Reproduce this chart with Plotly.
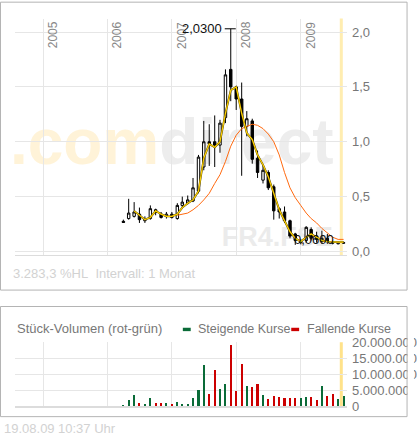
import pandas as pd
import plotly.graph_objects as go

# monthly candles, plotted at the end of each month (Mar 2006 .. Aug 2009)
months = pd.date_range("2006-04-01", periods=42, freq="MS")

opens = [0.275, 0.30, 0.32, 0.34, 0.28, 0.30, 0.38, 0.34, 0.32, 0.34,
         0.30, 0.42, 0.44, 0.46, 0.55, 0.77, 1.00, 1.00, 0.97, 1.22,
         1.66, 1.50, 1.39, 1.14, 1.19, 0.85, 0.65, 0.72, 0.59, 0.39,
         0.36, 0.28, 0.16, 0.08, 0.10, 0.20, 0.14, 0.09, 0.12, 0.09,
         0.07, 0.075]
highs = [0.29, 0.48, 0.45, 0.40, 0.32, 0.42, 0.39, 0.36, 0.36, 0.36,
         0.44, 0.50, 0.51, 0.67, 0.88, 1.19, 1.16, 1.24, 1.20, 1.66,
         2.03, 1.51, 1.54, 1.28, 1.21, 0.92, 0.79, 0.74, 0.61, 0.40,
         0.41, 0.29, 0.17, 0.11, 0.23, 0.22, 0.18, 0.19, 0.16, 0.10,
         0.09, 0.09]
lows = [0.26, 0.29, 0.31, 0.26, 0.26, 0.29, 0.33, 0.30, 0.30, 0.30,
        0.29, 0.40, 0.43, 0.45, 0.53, 0.74, 0.78, 0.77, 0.90, 1.17,
        1.37, 1.29, 0.69, 1.05, 0.80, 0.67, 0.62, 0.56, 0.29, 0.30,
        0.26, 0.12, 0.06, 0.065, 0.08, 0.10, 0.08, 0.07, 0.07, 0.065,
        0.065, 0.07]
closes = [0.265, 0.35, 0.36, 0.29, 0.29, 0.39, 0.355, 0.31, 0.34, 0.31,
          0.42, 0.45, 0.47, 0.58, 0.86, 1.00, 0.98, 0.97, 1.17, 1.61,
          1.50, 1.39, 1.14, 1.21, 0.84, 0.72, 0.74, 0.58, 0.37, 0.36,
          0.28, 0.14, 0.10, 0.10, 0.22, 0.12, 0.11, 0.12, 0.09, 0.075,
          0.08, 0.08]

# moving averages
ma_short = [None, None, 0.37, 0.33, 0.29, 0.31, 0.37, 0.34, 0.32, 0.32,
            0.34, 0.40, 0.44, 0.47, 0.55, 0.85, 0.98, 0.95, 1.00, 1.26,
            1.47, 1.50, 1.26, 1.08, 1.02, 0.88, 0.79, 0.68, 0.52, 0.38,
            0.28, 0.18, 0.12, 0.09, 0.13, 0.16, 0.13, 0.10, 0.09, 0.085,
            0.085, 0.085]
ma_long = [None] * 10 + [0.33, 0.34, 0.35, 0.38, 0.42, 0.47, 0.53, 0.62, 0.70, 0.82,
                         0.96, 1.06, 1.12, 1.14, 1.16, 1.15, 1.12, 1.07, 1.00, 0.88,
                         0.72, 0.58, 0.49, 0.42, 0.35, 0.30, 0.26, 0.21, 0.17, 0.13,
                         0.11, 0.11]

# volume in millions, "G" = steigend, "R" = fallend
volume_mio = [0.2, 1.7, 3.5, 0.8, 0.5, 2.3, 0.8, 0.8, 0.8, 0.5,
              1.1, 0.5, 0.5, 2.3, 5.0, 12.7, 3.8, 11.1, 5.3, 6.9,
              19.0, 4.7, 13.2, 6.3, 6.0, 6.9, 3.5, 2.0, 3.2, 2.6,
              2.3, 2.3, 2.3, 2.3, 2.9, 2.6, 1.7, 6.3, 3.2, 3.8,
              2.0, 3.2]
volume_dir = list("GGGRGGRRGRGGGGGGRRGGRRRGRRGRRRRRRGGRRGRRGG")

years = [2005, 2006, 2007, 2008, 2009]
price_ticks = [0.0, 0.5, 1.0, 1.5, 2.0]
price_ticktext = ["0,0", "0,5", "1,0", "1,5", "2,0"]
vol_ticks = [0, 5e6, 10e6, 15e6, 20e6]
vol_ticktext = ["0", "5.000.000", "10.000.000", "15.000.000", "20.000.000"]
today = "2009-08-19"

# ─────────────────────────────────────────────
# helpers: pixel -> paper
# ─────────────────────────────────────────────
W, H = 417, 443
FONT = "Liberation Sans, Arial, sans-serif"
GRID = "#E6E6E6"
GREEN = "#0A6B38"
RED = "#CC0000"


def px(x):
    return x / W


def py(y):
    return 1 - y / H


def de(v, nd):
    s = f"{v:,.{nd}f}"
    return s.replace(",", "#").replace(".", ",").replace("#", ".")


fig = go.Figure()

fig.add_trace(go.Candlestick(
    x=months, open=opens, high=highs, low=lows, close=closes,
    increasing=dict(line=dict(color="black", width=1), fillcolor="white"),
    decreasing=dict(line=dict(color="black", width=1), fillcolor="black"),
    whiskerwidth=0, showlegend=False, hoverinfo="skip",
    xaxis="x", yaxis="y",
))
fig.add_trace(go.Scatter(
    x=months, y=ma_long, mode="lines",
    line=dict(color="#FF6A10", width=1),
    showlegend=False, hoverinfo="skip", xaxis="x", yaxis="y",
))
fig.add_trace(go.Scatter(
    x=months, y=ma_short, mode="lines",
    line=dict(color="#4A3C00", width=1.9),
    showlegend=False, hoverinfo="skip", xaxis="x", yaxis="y",
))
fig.add_trace(go.Scatter(
    x=months, y=ma_short, mode="lines",
    line=dict(color="#FFD200", width=1.2),
    showlegend=False, hoverinfo="skip", xaxis="x", yaxis="y",
))

fig.add_trace(go.Bar(
    x=months, y=[v * 1e6 for v in volume_mio],
    marker=dict(color=[GREEN if d == "G" else RED for d in volume_dir], line_width=0),
    width=9 * 24 * 3600 * 1000,
    showlegend=False, hoverinfo="skip", xaxis="x2", yaxis="y2",
))

x_range = ["2004-07-24", "2009-09-20"]
year_ticks = [f"{y}-01-01" for y in years]
xcommon = dict(
    type="date", range=x_range, domain=[px(15), px(352)],
    tickvals=year_ticks, showticklabels=False, ticks="",
    showgrid=True, gridcolor=GRID, gridwidth=1, zeroline=False,
    showline=True, linecolor="#DCDCDC", fixedrange=True,
    rangeslider=dict(visible=False),
)
fig.update_layout(
    width=W, height=H,
    margin=dict(l=0, r=0, t=0, b=0),
    paper_bgcolor="white", plot_bgcolor="white",
    font=dict(family=FONT, color="#777"),
    separators=",.",
    bargap=0,
    xaxis=dict(xcommon, anchor="y"),
    xaxis2=dict(xcommon, anchor="y2", linewidth=2),
    yaxis=dict(
        domain=[py(257), py(12)], range=[-0.035, 2.123], side="right",
        tickvals=price_ticks, ticktext=price_ticktext, anchor="x",
        showgrid=True, gridcolor=GRID, zeroline=False, ticks="",
        tickfont=dict(size=13, color="#777"), ticklabelstandoff=4,
        fixedrange=True,
    ),
    yaxis2=dict(
        domain=[py(413), py(347)], range=[0, 20e6], side="right",
        tickvals=vol_ticks, ticktext=vol_ticktext, anchor="x2",
        showgrid=True, gridcolor=GRID, zeroline=False, ticks="",
        tickfont=dict(size=13, color="#777"), ticklabelstandoff=4,
        fixedrange=True,
    ),
)

shapes = []
# watermarks behind everything
shapes.append(dict(
    type="rect", xref="paper", yref="paper",
    x0=px(7), x1=px(352), y0=py(171), y1=py(95),
    line=dict(width=0), layer="below",
    label=dict(
        text='<b><span style="color:#FFF3D8">.com</span>'
             '<span style="color:#EDEDED">direct</span></b>',
        font=dict(size=64, family=FONT),
        textposition="bottom left", xanchor="left", yanchor="bottom", padding=0,
    ),
))
shapes.append(dict(
    type="rect", xref="paper", yref="paper",
    x0=px(222), x1=px(352), y0=py(250), y1=py(220),
    line=dict(width=0), layer="below",
    label=dict(text="<b>FR4.FSE</b>", font=dict(size=27, family=FONT, color="#EBEBEB"),
               textposition="bottom left", xanchor="left", yanchor="bottom", padding=0),
))
# today marker
for xr, yr, col in (("x", "y domain", "#FFEDB0"), ("x2", "y2 domain", "#FFE28A")):
    shapes.append(dict(
        type="line", xref=xr, yref=yr, x0=today, x1=today, y0=0, y1=1,
        line=dict(color=col, width=3), layer="below",
    ))

# high marker line
i_hi = highs.index(max(highs))
i_lo = lows.index(min(lows))
shapes.append(dict(
    type="line", xref="x", yref="y", xsizemode="pixel", xanchor=months[i_hi],
    x0=-6, x1=5, y0=highs[i_hi], y1=highs[i_hi],
    line=dict(color="black", width=1),
))

# volume legend swatches
shapes.append(dict(type="rect", xref="paper", yref="paper",
                   x0=px(185.5), x1=px(193.5), y0=py(335.5), y1=py(332),
                   fillcolor=GREEN, line=dict(width=0)))
shapes.append(dict(type="rect", xref="paper", yref="paper",
                   x0=px(295.5), x1=px(303.5), y0=py(335.5), y1=py(332),
                   fillcolor=RED, line=dict(width=0)))

# clip overflowing tick labels at the panel edge, then panel frames
shapes.append(dict(type="rect", xref="paper", yref="paper",
                   x0=px(413.5), x1=px(420), y0=py(430), y1=py(300),
                   fillcolor="white", line=dict(width=0), layer="above"))
shapes.append(dict(type="rect", xref="paper", yref="paper",
                   x0=px(0.5), x1=px(413), y0=py(293), y1=py(-5),
                   line=dict(color="#B4B4B4", width=1), layer="above"))
shapes.append(dict(type="rect", xref="paper", yref="paper",
                   x0=px(0.5), x1=px(413), y0=py(424), y1=py(310),
                   line=dict(color="#B4B4B4", width=1), layer="above"))
fig.update_layout(shapes=shapes)

ann = []
for yr, xt in zip(years, year_ticks):
    ann.append(dict(x=xt, y=py(13), xref="x", yref="paper", text=str(yr),
                    textangle=-90, xanchor="left", yanchor="top", xshift=1,
                    showarrow=False, font=dict(size=12, color="#888")))
ann.append(dict(x=months[i_hi], y=highs[i_hi], xref="x", yref="y",
                text=de(highs[i_hi], 4), xanchor="right", yanchor="middle",
                xshift=-7, showarrow=False, font=dict(size=13, color="#111")))
ann.append(dict(x=months[i_lo], y=lows[i_lo], xref="x", yref="y",
                text=de(lows[i_lo], 4), xanchor="left", yanchor="middle",
                xshift=-3, yshift=5, showarrow=False, font=dict(size=13, color="#111")))

hl = (max(highs) / min(lows) - 1) * 100
ann.append(dict(x=px(11), y=py(276), xref="paper", yref="paper",
                text=f"{de(hl, 1)} %HL&nbsp;&nbsp;Intervall: 1 Monat",
                xanchor="left", yanchor="middle", showarrow=False,
                font=dict(size=13, color="#D2D2D2")))
ann.append(dict(x=px(15), y=py(333), xref="paper", yref="paper",
                text="Stück-Volumen (rot-grün)", xanchor="left", yanchor="middle",
                showarrow=False, font=dict(size=13, color="#777")))
ann.append(dict(x=px(199), y=py(333), xref="paper", yref="paper",
                text="Steigende Kurse", xanchor="left", yanchor="middle",
                showarrow=False, font=dict(size=12.5, color="#777")))
ann.append(dict(x=px(309), y=py(333), xref="paper", yref="paper",
                text="Fallende Kurse", xanchor="left", yanchor="middle",
                showarrow=False, font=dict(size=12.5, color="#777")))
ann.append(dict(x=px(2), y=py(436), xref="paper", yref="paper",
                text="19.08.09", xanchor="left", yanchor="middle",
                showarrow=False, font=dict(size=13, color="#D2D2D2")))
ann.append(dict(x=px(57), y=py(436), xref="paper", yref="paper",
                text="10:37 Uhr", xanchor="left", yanchor="middle",
                showarrow=False, font=dict(size=13, color="#D2D2D2")))
fig.update_layout(annotations=ann)

# page body without the default margin so the figure sits at the window corner
fig.write_html("out.html", config={"displayModeBar": False},
               post_script="document.body.style.margin='0';")
